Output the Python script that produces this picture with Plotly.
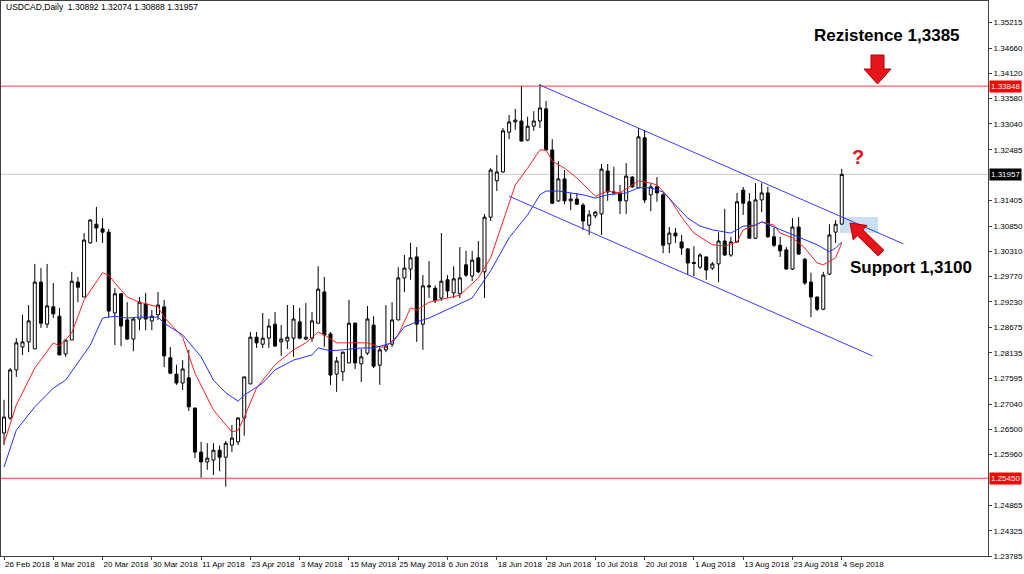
import plotly.graph_objects as go

# ---------------- data ----------------
opens = [1.2642,1.2674,1.2777,1.2826,1.2837,1.2822,1.2965,1.2875,1.2912,1.2892,
         1.2811,1.2841,1.2965,1.2933,1.3049,1.3089,1.3079,1.3072,1.2899,1.2940,
         1.2884,1.2843,1.2886,1.2918,1.2882,1.2895,1.2912,1.2803,1.2768,1.2749,
         1.2760,1.2695,1.2601,1.2580,1.2584,1.2605,1.2590,1.2616,1.2623,1.2674,
         1.2747,1.2847,1.2832,1.2845,1.2875,1.2837,1.2839,1.2845,1.2880,1.2843,
         1.2845,1.2877,1.2944,1.2854,1.2768,1.2773,1.2792,1.2877,1.2790,1.2813,
         1.2873,1.2787,1.2820,1.2832,1.2884,1.2974,1.2993,1.3019,1.2875,1.2957,
         1.2952,1.2931,1.2970,1.2942,1.2940,1.3002,1.2978,1.3017,1.2987,1.3104,
         1.3182,1.3201,1.3286,1.3308,1.3310,1.3269,1.3299,1.3310,1.3336,1.3248,
         1.3139,1.3186,1.3139,1.3143,1.3130,1.3087,1.3107,1.3111,1.3203,1.3158,
         1.3156,1.3139,1.3190,1.3167,1.3274,1.3152,1.3169,1.3152,1.3047,1.3070,
         1.3051,1.3036,1.3007,1.2997,1.3019,1.2995,1.3004,1.3053,1.3023,1.3051,
         1.3162,1.3137,1.3059,1.3141,1.3156,1.3062,1.3044,1.3034,1.2993,1.3083,
         1.3014,1.2965,1.2933,1.2907,1.2982,1.3072,1.30892]
highs = [1.2713,1.2781,1.2845,1.2895,1.2916,1.3004,1.2995,1.3004,1.2963,1.2910,
         1.2841,1.2987,1.2976,1.3070,1.3100,1.3126,1.3102,1.3079,1.2952,1.2941,
         1.2922,1.2890,1.2933,1.2942,1.2905,1.2944,1.2927,1.2826,1.2788,1.2798,
         1.2820,1.2697,1.2623,1.2620,1.2620,1.2615,1.2625,1.2659,1.2676,1.2762,
         1.2858,1.2858,1.2899,1.2886,1.2901,1.2873,1.2916,1.2916,1.2910,1.2920,
         1.2901,1.2999,1.2976,1.2858,1.2805,1.2816,1.2927,1.2879,1.2822,1.2914,
         1.2892,1.2828,1.2916,1.2922,1.2997,1.3023,1.3049,1.3040,1.2980,1.3010,
         1.2958,1.3070,1.2980,1.2999,1.3040,1.3032,1.3032,1.3053,1.3111,1.3209,
         1.3237,1.3295,1.3323,1.3336,1.3385,1.3319,1.3331,1.3389,1.3353,1.3271,
         1.3224,1.3205,1.3156,1.3156,1.3134,1.3119,1.3117,1.3218,1.3218,1.3212,
         1.3173,1.3220,1.3192,1.3295,1.3291,1.3177,1.3190,1.3156,1.3083,1.3081,
         1.3066,1.3038,1.3042,1.3027,1.3020,1.3008,1.3072,1.3122,1.3062,1.3156,
         1.3169,1.3156,1.3177,1.3177,1.3169,1.3081,1.3062,1.3040,1.3102,1.3104,
         1.3017,1.2985,1.2934,1.2987,1.3089,1.3098,1.32074]
lows = [1.2616,1.2670,1.2762,1.2809,1.2815,1.2822,1.2867,1.2867,1.2888,1.2809,
        1.2805,1.2841,1.2922,1.2933,1.3047,1.3051,1.3049,1.2890,1.2830,1.2828,
        1.2841,1.2817,1.2862,1.2862,1.2862,1.2884,1.2783,1.2768,1.2745,1.2734,
        1.2689,1.2588,1.2546,1.2563,1.2552,1.2560,1.2527,1.2601,1.2616,1.2636,
        1.2747,1.2824,1.2824,1.2824,1.2826,1.2807,1.2822,1.2805,1.2843,1.2841,
        1.2837,1.2877,1.2826,1.2745,1.2730,1.2753,1.2792,1.2779,1.2751,1.2809,
        1.2781,1.2745,1.2815,1.2826,1.2884,1.2944,1.2970,1.2837,1.2820,1.2931,
        1.2920,1.2925,1.2931,1.2931,1.2931,1.2976,1.2967,1.2984,1.2931,1.3096,
        1.3160,1.3199,1.3271,1.3291,1.3267,1.3267,1.3289,1.3295,1.3246,1.3132,
        1.3137,1.3132,1.3119,1.3130,1.3077,1.3066,1.3102,1.3066,1.3139,1.3155,
        1.3111,1.3111,1.3167,1.3166,1.3134,1.3117,1.3137,1.3027,1.3027,1.3049,
        1.3023,1.2980,1.2978,1.2993,1.2970,1.2991,1.2965,1.3021,1.3019,1.3049,
        1.3109,1.3059,1.3057,1.3115,1.3060,1.3040,1.3019,1.2991,1.2991,1.3023,
        1.2959,1.2890,1.2903,1.2905,1.2980,1.3049,1.30888]
closes = [1.2676,1.2777,1.2835,1.2837,1.2882,1.2965,1.2877,1.2914,1.2897,1.2809,
          1.2841,1.2967,1.2954,1.3055,1.3098,1.3081,1.3072,1.2903,1.2940,1.2871,
          1.2843,1.2886,1.2922,1.2886,1.2892,1.2916,1.2807,1.2770,1.2749,1.2779,
          1.2698,1.2601,1.2580,1.2588,1.2605,1.2590,1.2620,1.2631,1.2674,1.2762,
          1.2847,1.2835,1.2845,1.2871,1.2828,1.2843,1.2847,1.2886,1.2845,1.2847,
          1.2882,1.2950,1.2852,1.2766,1.2796,1.2815,1.2877,1.2792,1.2805,1.2886,
          1.2785,1.2820,1.2828,1.2884,1.2974,1.2995,1.3017,1.2875,1.2957,1.2955,
          1.2925,1.2967,1.2946,1.2972,1.2974,1.2980,1.3012,1.2987,1.3104,1.3205,
          1.3201,1.3289,1.3308,1.3312,1.3267,1.3299,1.3310,1.3338,1.3248,1.3134,
          1.3186,1.3139,1.3143,1.3132,1.3096,1.3109,1.3115,1.3207,1.3158,1.3156,
          1.3139,1.3192,1.3169,1.3276,1.3141,1.3169,1.3156,1.3044,1.3070,1.3064,
          1.3038,1.3006,1.3005,1.3023,1.2991,1.3004,1.3053,1.3023,1.3051,1.3137,
          1.3134,1.3059,1.3141,1.3156,1.3062,1.3044,1.3032,1.2993,1.3083,1.3025,
          1.2963,1.2933,1.2907,1.2980,1.3066,1.3089,1.31957]

tick_bars = [0, 8, 16, 24, 32, 40, 48, 56, 64, 72, 80, 88, 96, 104, 112, 120, 128, 136]
tick_dates = ["26 Feb 2018", "8 Mar 2018", "20 Mar 2018", "30 Mar 2018", "11 Apr 2018",
              "23 Apr 2018", "3 May 2018", "15 May 2018", "25 May 2018", "6 Jun 2018",
              "18 Jun 2018", "28 Jun 2018", "10 Jul 2018", "20 Jul 2018", "1 Aug 2018",
              "13 Aug 2018", "23 Aug 2018", "4 Sep 2018"]
price_ticks = [1.35215, 1.34660, 1.34120, 1.33580, 1.33040, 1.32485, 1.31405, 1.30850,
               1.30310, 1.29770, 1.29230, 1.28675, 1.28135, 1.27595, 1.27040, 1.26500,
               1.25960, 1.24865, 1.24325, 1.23785]

# moving averages (bar index, price)
ma_fast_x = [0, 2, 5, 8, 9, 11, 13, 16, 17, 18, 20, 22, 25, 26, 29, 31, 34, 37, 38, 39,
             41, 43, 44, 47, 49, 51, 52, 54, 59, 61, 62, 64, 66, 67, 69, 74, 77, 79, 81,
             83, 85, 87, 88, 89, 91, 93, 96, 98, 100, 102, 103, 105, 106, 108, 110, 112,
             115, 117, 119, 120, 122, 123, 125, 126, 128, 130, 132, 133, 135, 136]
ma_fast_y = [1.2620, 1.2702, 1.2781, 1.2835, 1.2828, 1.2856, 1.2927, 1.2985, 1.2980,
             1.2963, 1.2933, 1.2922, 1.2912, 1.2890, 1.2847, 1.2770, 1.2691, 1.2644,
             1.2648, 1.2676, 1.2738, 1.2773, 1.2788, 1.2820, 1.2835, 1.2858, 1.2852,
             1.2835, 1.2835, 1.2826, 1.2826, 1.2852, 1.2910, 1.2905, 1.2922, 1.2937,
             1.2974, 1.3017, 1.3096, 1.3173, 1.3209, 1.3248, 1.3248, 1.3224, 1.3209,
             1.3188, 1.3149, 1.3160, 1.3156, 1.3173, 1.3182, 1.3177, 1.3173, 1.3145,
             1.3104, 1.3070, 1.3045, 1.3042, 1.3051, 1.3077, 1.3087, 1.3094, 1.3087,
             1.3070, 1.3060, 1.3038, 1.3006, 1.3002, 1.3017, 1.3049]
ma_slow_x = [0, 2, 5, 8, 10, 12, 14, 16, 18, 20, 22, 25, 26, 29, 32, 34, 36, 38, 39, 42,
             44, 47, 50, 51, 53, 55, 58, 60, 63, 65, 67, 69, 76, 79, 82, 85, 87, 88, 90,
             92, 94, 96, 98, 101, 103, 105, 107, 109, 111, 113, 115, 118, 120, 122, 123,
             125, 127, 129, 132, 134, 135, 136]
ma_slow_y = [1.2569, 1.2648, 1.2698, 1.2738, 1.2755, 1.2792, 1.2830, 1.2888, 1.2892,
             1.2888, 1.2890, 1.2890, 1.2877, 1.2852, 1.2805, 1.2755, 1.2728, 1.2710,
             1.2723, 1.2749, 1.2777, 1.2798, 1.2809, 1.2824, 1.2818, 1.2820, 1.2824,
             1.2824, 1.2835, 1.2869, 1.2880, 1.2888, 1.2931, 1.2989, 1.3060, 1.3109,
             1.3152, 1.3160, 1.3160, 1.3156, 1.3152, 1.3145, 1.3152, 1.3156, 1.3167,
             1.3167, 1.3158, 1.3130, 1.3102, 1.3085, 1.3077, 1.3070, 1.3085, 1.3087,
             1.3094, 1.3083, 1.3072, 1.3062, 1.3045, 1.3030, 1.3038, 1.3051]

# trend channel (bar index, price)
channel_top = [(87, 1.3387), (146, 1.3047)]
channel_bottom = [(82, 1.3149), (141, 1.2807)]

resistance = 1.33848
support_lvl = 1.25450
last_close = 1.31957
header = "USDCAD,Daily  1.30892 1.32074 1.30888 1.31957"

# ---------------- layout geometry ----------------
W, H = 1024, 574
ML, MR, MT, MB = 1, 36, 1, 18
PW, PH = W - ML - MR, H - MT - MB


def px(x):
    return (x - ML) / PW


def py(y):
    return (H - MB - y) / PH


def path(points):
    return "M " + " L ".join(f"{px(a)},{py(b)}" for a, b in points) + " Z"


bars = list(range(len(opens)))
FONT = "Liberation Sans"

fig = go.Figure()
fig.add_trace(go.Candlestick(
    x=bars, open=opens, high=highs, low=lows, close=closes,
    increasing=dict(line=dict(color="black", width=1), fillcolor="white"),
    decreasing=dict(line=dict(color="black", width=1), fillcolor="black"),
    whiskerwidth=0, hoverinfo="skip", showlegend=False))
fig.add_trace(go.Scatter(x=ma_fast_x, y=ma_fast_y, mode="lines",
                         line=dict(color="#ff2020", width=1), hoverinfo="skip", showlegend=False))
fig.add_trace(go.Scatter(x=ma_slow_x, y=ma_slow_y, mode="lines",
                         line=dict(color="#2030ff", width=1), hoverinfo="skip", showlegend=False))

shapes = []
# support zone rectangle
shapes.append(dict(type="rect", xref="paper", yref="paper", x0=px(840), x1=px(878),
                   y0=py(233), y1=py(217), fillcolor="#c9e0f2", line=dict(width=0), layer="below"))
# horizontal levels
shapes.append(dict(type="line", xref="paper", yref="y", x0=0, x1=1, y0=last_close, y1=last_close,
                   line=dict(color="#c8c8c8", width=1), layer="below"))
for lvl in (resistance, support_lvl):
    shapes.append(dict(type="line", xref="paper", yref="y", x0=0, x1=1, y0=lvl, y1=lvl,
                       line=dict(color="#f04040", width=1)))
# channel lines
for (x0, y0), (x1, y1) in (channel_top, channel_bottom):
    shapes.append(dict(type="line", xref="x", yref="y", x0=x0, y0=y0, x1=x1, y1=y1,
                       line=dict(color="#3a3aff", width=1)))
# red down arrow
shapes.append(dict(type="path", xref="paper", yref="paper",
                   path=path([(871, 55), (884, 55), (884, 69), (891, 69), (877.5, 84),
                              (864, 69), (871, 69)]),
                   fillcolor="#e8141c", line=dict(color="#b00000", width=1)))
# red tilted arrow pointing to support
shapes.append(dict(type="path", xref="paper", yref="paper",
                   path=path([(850, 223), (867, 225.5), (862.9, 229.8), (883.8, 250.1),
                              (878.2, 255.9), (857.3, 235.6), (853.2, 239.9)]),
                   fillcolor="#e8141c", line=dict(color="#b00000", width=1)))

annotations = [
    dict(xref="paper", yref="paper", x=px(4), y=py(7), text=header, showarrow=False,
         xanchor="left", yanchor="middle", font=dict(family=FONT, size=8.5, color="black")),
    dict(xref="paper", yref="paper", x=px(887), y=py(35), text="<b>Rezistence 1,3385</b>",
         showarrow=False, xanchor="center", yanchor="middle",
         font=dict(family="Liberation Sans", size=17, color="black")),
    dict(xref="paper", yref="paper", x=px(911), y=py(267), text="<b>Support 1,3100</b>",
         showarrow=False, xanchor="center", yanchor="middle",
         font=dict(family="Liberation Sans", size=17, color="black")),
    dict(xref="paper", yref="paper", x=px(858), y=py(157), text="<b>?</b>", showarrow=False,
         xanchor="center", yanchor="middle",
         font=dict(family="Liberation Sans", size=20, color="#e8141c")),
]
for val, bg in ((resistance, "#ff0000"), (last_close, "#000000"), (support_lvl, "#ff0000")):
    annotations.append(dict(xref="paper", yref="y", x=1, y=val, text=f"{val:.5f}",
                            showarrow=False, xanchor="left", yanchor="middle", xshift=1,
                            bgcolor=bg, borderpad=1,
                            font=dict(family=FONT, size=8, color="white")))

fig.update_layout(
    width=W, height=H, margin=dict(l=ML, r=MR, t=MT, b=MB, autoexpand=False),
    paper_bgcolor="white", plot_bgcolor="white",
    shapes=shapes, annotations=annotations, hovermode=False, showlegend=False,
    xaxis=dict(range=[-0.487, 159.74], tickvals=tick_bars, ticktext=tick_dates,
               ticks="outside", ticklen=3, tickcolor="#404040", tickangle=0,
               ticklabelposition="outside right", automargin=False,
               tickfont=dict(family=FONT, size=8, color="black"),
               showgrid=False, zeroline=False, showline=True, linecolor="#404040",
               mirror=True, rangeslider=dict(visible=False), fixedrange=True),
    yaxis=dict(range=[1.23785, 1.3567], side="right", tickvals=price_ticks,
               ticktext=[f"{v:.5f}" for v in price_ticks], automargin=False,
               ticks="outside", ticklen=3, tickcolor="#404040",
               tickfont=dict(family=FONT, size=8, color="black"),
               showgrid=False, zeroline=False, showline=True, linecolor="#404040",
               mirror=True, fixedrange=True),
)

fig.write_html("out.html", config={"displayModeBar": False},
               post_script="document.body.style.margin='0px';document.body.style.overflow='hidden';")
